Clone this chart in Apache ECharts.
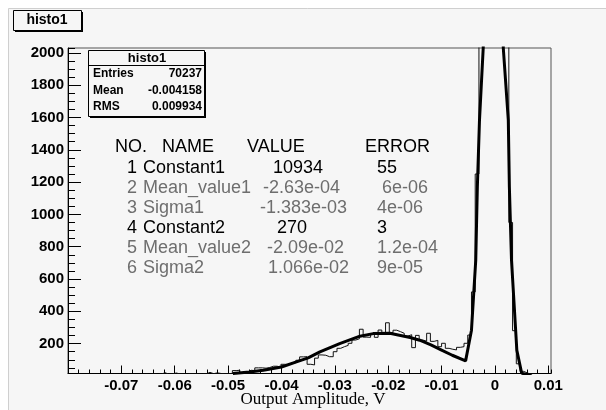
<!DOCTYPE html>
<html>
<head>
<meta charset="utf-8">
<script src="https://cdn.jsdelivr.net/npm/echarts@6/dist/echarts.min.js"></script>
<style>
  html, body { margin: 0; padding: 0; background: #fff; }
  #main { width: 606px; height: 410px; }
</style>
</head>
<body>
<div id="main"></div>
<script>
// histogram binning
var binStart = -0.08;
var binWidth = 0.0007;
var histValues = [
  3, 1, 4, 2, 5, 3, 6, 2, 4, 7,
  3, 5, 8, 4, 6, 9, 5, 7, 10, 6,
  11, 8, 12, 9, 11, 20, 10, 13, 18, 12,
  12, 10, 14, 13, 12, 11, 13, 22, 14, 19,
  15, 14, 13, 16, 33, 35, 20, 24, 35, 33,
  50, 50, 48, 52, 60, 60, 52, 72, 70, 80,
  82, 97, 118, 119, 72, 68, 110, 130, 128, 119,
  119, 150, 171, 181, 189, 202, 222, 230, 289, 240,
  239, 258, 239, 284, 262, 329, 268, 283, 274, 264,
  247, 255, 175, 251, 222, 215, 264, 214, 220, 181,
  202, 171, 165, 161, 177, 181, 202, 253, 520, 1250,
  2600, 5200, 8400, 10600, 10500, 8000, 4400, 2100, 950, 280,
  75, 28, 18, 10, 6, 4, 3, 2, 1, 0
];

// fitted curve, points
var fitX = [-0.0491, -0.046, -0.0434, -0.040, -0.0372, -0.035, -0.0328, -0.0291, -0.0253, -0.0228,
  -0.0197, -0.0159, -0.0141, -0.012, -0.010, -0.008, -0.0055, -0.0044, -0.0036, -0.0033,
  -0.0029, -0.0022, -0.0015, -0.0008, -0.0003, 0.0002, 0.0009, 0.00156, 0.0025, 0.0027,
  0.0031, 0.0041, 0.005, 0.0069];
var fitY = [15, 24, 35, 55, 87, 112, 149, 200, 246, 262,
  264, 238, 221, 192, 160, 128, 93, 283, 716, 1170,
  1583, 2030, 4300, 8000, 10900, 9600, 5800, 2030, 1583, 1170,
  716, 159, 17, 0];

var statsLabels = ['Entries', 'Mean', 'RMS'];
var statsValues = ['70237', '-0.004158', '0.009934'];

var parNo = ['1', '2', '3', '4', '5', '6'];
var parNames = ['Constant1', 'Mean_value1', 'Sigma1', 'Constant2', 'Mean_value2', 'Sigma2'];
var parValues = ['10934', '-2.63e-04', '-1.383e-03', '270', '-2.09e-02', '1.066e-02'];
var parErrors = ['55', '6e-06', '4e-06', '3', '1.2e-04', '9e-05'];

var xMin = -0.08, xMax = 0.0105;
var yMin = 15, yMax = 2030;

// ---- build series data
var histData = histValues.map(function (v, i) {
  return [binStart + i * binWidth, v];
});
histData.push([binStart + histValues.length * binWidth, histValues[histValues.length - 1]]);
var fitData = fitX.map(function (x, i) { return [x, fitY[i]]; });

// ---- layout / style
var bg = '#f6f6f6';
var sans = '"Liberation Sans", Arial, sans-serif';
var darkRows = [0, 3];
var valueXs = [273, 263, 260, 277, 267, 268];
var errorXs = [377, 382, 377, 377, 377, 377];

var graphics = [
  { type: 'rect', shape: { x: 8.5, y: 8.5, width: 600, height: 405 }, style: { fill: bg, stroke: '#cfcfcf', lineWidth: 1 }, z: -10 },
  // title box
  { type: 'rect', shape: { x: 15, y: 12, width: 68, height: 20 }, style: { fill: '#000' }, z: 10 },
  { type: 'rect', shape: { x: 13.5, y: 10.5, width: 68, height: 20 }, style: { fill: bg, stroke: '#000', lineWidth: 1 }, z: 11 },
  { type: 'text', x: 47, y: 20.5, style: { text: 'histo1', font: 'bold 14px ' + sans, fill: '#000', textAlign: 'center', textVerticalAlign: 'middle' }, z: 12 },
  // stats box
  { type: 'rect', shape: { x: 90, y: 52, width: 116, height: 66 }, style: { fill: '#000' }, z: 10 },
  { type: 'rect', shape: { x: 88.5, y: 50.5, width: 116, height: 66 }, style: { fill: bg, stroke: '#000', lineWidth: 1 }, z: 11 },
  { type: 'line', shape: { x1: 88.5, y1: 65.5, x2: 204.5, y2: 65.5 }, style: { stroke: '#000', lineWidth: 1 }, z: 12 },
  { type: 'text', x: 147, y: 58, style: { text: 'histo1', font: 'bold 13px ' + sans, fill: '#000', textAlign: 'center', textVerticalAlign: 'middle' }, z: 12 },
  // axis title
  { type: 'text', x: 313, y: 400, style: { text: 'Output Amplitude, V', font: '17px "Liberation Serif", "Times New Roman", serif', fill: '#000', textAlign: 'center', textVerticalAlign: 'middle' }, z: 12 }
];

var statsY = [73.5, 90.5, 107];
statsLabels.forEach(function (s, i) {
  graphics.push({ type: 'text', x: 93, y: statsY[i], style: { text: s, font: 'bold 12px ' + sans, fill: '#000', textAlign: 'left', textVerticalAlign: 'middle' }, z: 12 });
  graphics.push({ type: 'text', x: 202, y: statsY[i], style: { text: statsValues[i], font: 'bold 12px ' + sans, fill: '#000', textAlign: 'right', textVerticalAlign: 'middle' }, z: 12 });
});

function txt(s, x, y, color) {
  return { type: 'text', x: x, y: y, style: { text: s, font: '18px ' + sans, fill: color, textAlign: 'left', textVerticalAlign: 'middle' }, z: 12 };
}
graphics.push(txt('NO.', 115, 147, '#000'));
graphics.push(txt('NAME', 162, 147, '#000'));
graphics.push(txt('VALUE', 247, 147, '#000'));
graphics.push(txt('ERROR', 365, 147, '#000'));
parNames.forEach(function (n, i) {
  var y = 168.5 + 20 * i;
  var c = darkRows.indexOf(i) >= 0 ? '#000' : '#6e6e6e';
  graphics.push(txt(parNo[i], 127, y, c));
  graphics.push(txt(n, 143, y, c));
  graphics.push(txt(parValues[i], valueXs[i], y, c));
  graphics.push(txt(parErrors[i], errorXs[i], y, c));
});

var myChart = echarts.init(document.getElementById('main'), null, { renderer: 'canvas' });

var option = {
  animation: false,
  backgroundColor: '#fff',
  grid: {
    left: 68, right: 55, top: 48, bottom: 36.5,
    show: true, borderColor: '#555', borderWidth: 1, backgroundColor: 'transparent'
  },
  xAxis: [
    {
      type: 'value', min: xMin, max: xMax, interval: 0.01, position: 'bottom',
      axisLine: { show: true, onZero: false, lineStyle: { color: '#000', width: 1 } },
      axisTick: { show: true, inside: true, length: 8, lineStyle: { color: '#000' } },
      axisLabel: {
        showMinLabel: false, showMaxLabel: false, margin: 5,
        color: '#000', fontFamily: sans, fontWeight: 'bold', fontSize: 15,
        formatter: function (v) { return v === 0 ? '0' : String(+v.toFixed(3)); }
      },
      splitLine: { show: false }
    },
    {
      type: 'value', min: xMin, max: xMax, interval: 0.002, position: 'bottom',
      axisLine: { show: false, onZero: false },
      axisTick: { show: true, inside: true, length: 4, lineStyle: { color: '#000' } },
      axisLabel: { show: false },
      splitLine: { show: false }
    }
  ],
  yAxis: [
    {
      type: 'value', min: yMin, max: yMax, splitNumber: 10, position: 'left',
      axisLine: { show: true, onZero: false, lineStyle: { color: '#000', width: 1 } },
      axisTick: { show: true, inside: true, length: 13, lineStyle: { color: '#000' } },
      axisLabel: {
        showMinLabel: false, showMaxLabel: false, margin: 4,
        color: '#000', fontFamily: sans, fontWeight: 'bold', fontSize: 15,
        formatter: function (v) { return String(Math.round(v)); }
      },
      splitLine: { show: false }
    },
    {
      type: 'value', min: yMin, max: yMax, splitNumber: 40, position: 'left',
      axisLine: { show: false, onZero: false },
      axisTick: { show: true, inside: true, length: 7, lineStyle: { color: '#000' } },
      axisLabel: { show: false },
      splitLine: { show: false }
    }
  ],
  series: [
    {
      name: 'histo1', type: 'line', step: 'end', data: histData,
      xAxisIndex: 0, yAxisIndex: 0, symbol: 'none', clip: true,
      lineStyle: { color: '#111', width: 1 }, z: 2
    },
    {
      name: 'fit', type: 'line', data: fitData,
      xAxisIndex: 0, yAxisIndex: 0, symbol: 'none', clip: true,
      lineStyle: { color: '#000', width: 3 }, z: 3
    }
  ],
  graphic: graphics
};

myChart.setOption(option);
</script>
</body>
</html>
